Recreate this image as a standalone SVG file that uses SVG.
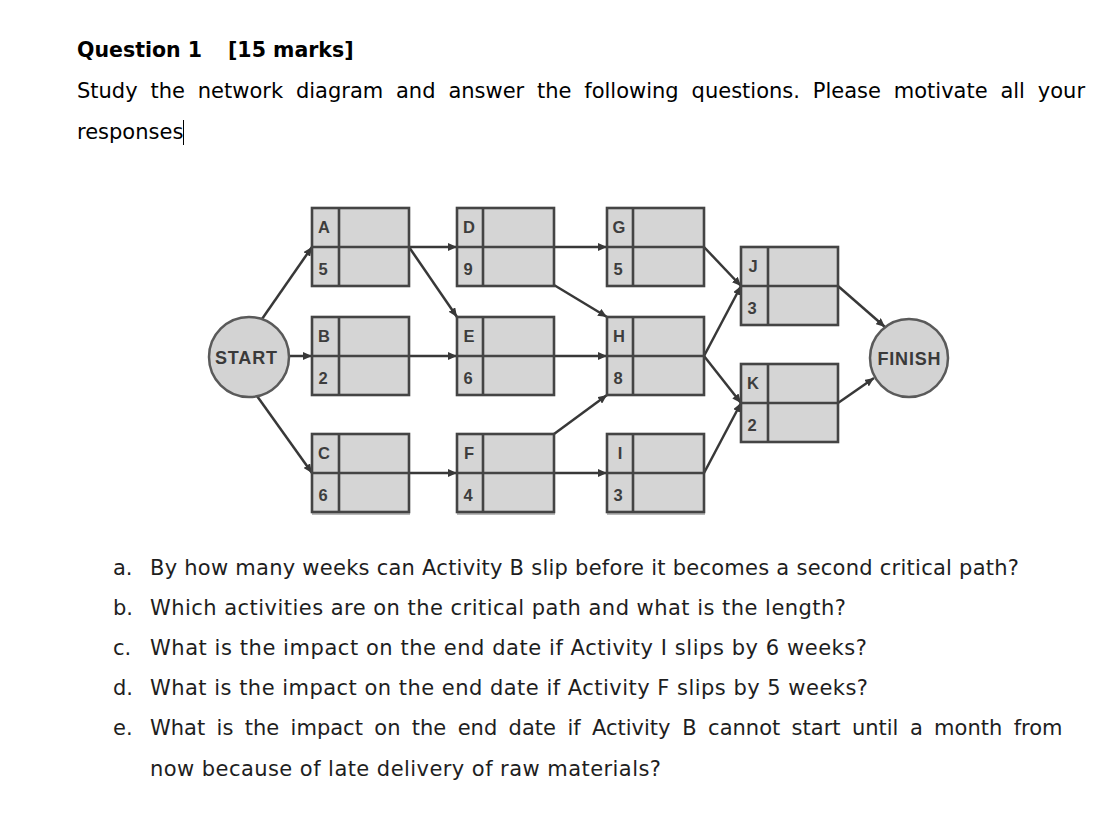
<svg xmlns="http://www.w3.org/2000/svg" width="1112" height="829" viewBox="0 0 1112 829">
<style>
.bg{fill:#ffffff}
.hd{font-family:"DejaVu Sans","Liberation Sans",sans-serif;font-weight:bold;font-size:20.5px;fill:#000}
.tx{font-family:"DejaVu Sans","Liberation Sans",sans-serif;font-size:21px;fill:#000}
.qt{font-family:"DejaVu Sans","Liberation Sans",sans-serif;font-size:21px;fill:#1e1e1e}
.box{fill:#d5d5d5;stroke:#444444;stroke-width:2.6}
.div{stroke:#444444;stroke-width:2.6;fill:none}
.shadow{fill:#b9b9b9}
.lbl{font-family:"Liberation Sans",Arial,sans-serif;font-weight:bold;font-size:16.5px;fill:#3d3d3d;text-anchor:middle}
.circ{fill:#d3d3d3;stroke:#5a5a5a;stroke-width:2.5}
.clbl{font-family:"Liberation Sans",Arial,sans-serif;font-weight:bold;font-size:18px;fill:#3a3a3a;text-anchor:middle}
.con{stroke:#383838;stroke-width:2.5;fill:none;marker-end:url(#arr)}
</style>
<defs>
<marker id="arr" markerUnits="userSpaceOnUse" markerWidth="9" markerHeight="8" refX="9" refY="4" orient="auto">
<path d="M0,0 L9,4 L0,8 z" fill="#383838"/>
</marker>
</defs>
<rect class="bg" x="0" y="0" width="1112" height="829"/>

<g id="header">
<text class="hd" x="77" y="57">Question 1</text>
<text class="hd" x="228" y="57">[15 marks]</text>
<text class="tx" y="98"><tspan x="77">Study</tspan><tspan x="150.5">the</tspan><tspan x="197.8">network</tspan><tspan x="295.9">diagram</tspan><tspan x="396">and</tspan><tspan x="448.4">answer</tspan><tspan x="537">the</tspan><tspan x="584.3">following</tspan><tspan x="691.6">questions.</tspan><tspan x="812.8">Please</tspan><tspan x="893.8">motivate</tspan><tspan x="1000.4">all</tspan><tspan x="1037.8">your</tspan></text>
<text class="tx" x="77" y="139">responses</text>
<line x1="183.5" y1="120" x2="183.5" y2="145" stroke="#000" stroke-width="1"/>
</g>

<g id="connectors">
<line class="con" x1="262" y1="319" x2="312" y2="247"/>
<line class="con" x1="289" y1="356" x2="312" y2="356"/>
<line class="con" x1="257" y1="396" x2="312" y2="473"/>
<line class="con" x1="409" y1="247" x2="457" y2="247"/>
<line class="con" x1="409" y1="247" x2="457" y2="317"/>
<line class="con" x1="409" y1="356" x2="457" y2="356"/>
<line class="con" x1="409" y1="473" x2="457" y2="473"/>
<line class="con" x1="554" y1="247" x2="607" y2="247"/>
<line class="con" x1="554" y1="285" x2="607" y2="317"/>
<line class="con" x1="554" y1="356" x2="607" y2="356"/>
<line class="con" x1="554" y1="434" x2="607" y2="395"/>
<line class="con" x1="554" y1="473" x2="607" y2="473"/>
<line class="con" x1="704" y1="247" x2="741" y2="286"/>
<line class="con" x1="704" y1="356" x2="741" y2="286"/>
<line class="con" x1="704" y1="356" x2="741" y2="403"/>
<line class="con" x1="704" y1="473" x2="741" y2="403"/>
<line class="con" x1="838" y1="286" x2="885" y2="327"/>
<line class="con" x1="838" y1="403" x2="874" y2="378"/>
</g>

<g id="node-start">
<circle class="circ" cx="249" cy="357" r="40"/>
<text class="clbl" x="246" y="363.5" textLength="62">START</text>
</g>
<g id="node-finish">
<circle class="circ" cx="909" cy="358" r="39"/>
<text class="clbl" x="909" y="364.5" textLength="63">FINISH</text>
</g>

<g id="node-A">
<rect class="box" x="312" y="208" width="97" height="78"/>
<path class="div" d="M339,208 V286 M312,247 H409"/>
<text class="lbl" x="324" y="233">A</text><text class="lbl" x="323" y="275">5</text>
</g>
<g id="node-D">
<rect class="box" x="457" y="208" width="97" height="78"/>
<path class="div" d="M483,208 V286 M457,247 H554"/>
<text class="lbl" x="469" y="233">D</text><text class="lbl" x="468" y="275">9</text>
</g>
<g id="node-G">
<rect class="box" x="607" y="208" width="97" height="78"/>
<path class="div" d="M633,208 V286 M607,247 H704"/>
<text class="lbl" x="619" y="233">G</text><text class="lbl" x="618" y="275">5</text>
</g>
<g id="node-B">
<rect class="box" x="312" y="317" width="97" height="78"/>
<path class="div" d="M339,317 V395 M312,356 H409"/>
<text class="lbl" x="324" y="342">B</text><text class="lbl" x="323" y="384">2</text>
</g>
<g id="node-E">
<rect class="box" x="457" y="317" width="97" height="78"/>
<path class="div" d="M483,317 V395 M457,356 H554"/>
<text class="lbl" x="469" y="342">E</text><text class="lbl" x="468" y="384">6</text>
</g>
<g id="node-H">
<rect class="box" x="607" y="317" width="97" height="78"/>
<path class="div" d="M633,317 V395 M607,356 H704"/>
<text class="lbl" x="619" y="342">H</text><text class="lbl" x="618" y="384">8</text>
</g>
<g id="node-C">
<rect class="shadow" x="312" y="510" width="98" height="5"/>
<rect class="box" x="312" y="434" width="97" height="78"/>
<path class="div" d="M339,434 V512 M312,473 H409"/>
<text class="lbl" x="324" y="459">C</text><text class="lbl" x="323" y="501">6</text>
</g>
<g id="node-F">
<rect class="shadow" x="457" y="510" width="98" height="5"/>
<rect class="box" x="457" y="434" width="97" height="78"/>
<path class="div" d="M483,434 V512 M457,473 H554"/>
<text class="lbl" x="469" y="459">F</text><text class="lbl" x="468" y="501">4</text>
</g>
<g id="node-I">
<rect class="shadow" x="607" y="510" width="98" height="5"/>
<rect class="box" x="607" y="434" width="97" height="78"/>
<path class="div" d="M633,434 V512 M607,473 H704"/>
<text class="lbl" x="620" y="459">I</text><text class="lbl" x="618" y="501">3</text>
</g>
<g id="node-J">
<rect class="box" x="741" y="247" width="97" height="78"/>
<path class="div" d="M768,247 V325 M741,286 H838"/>
<text class="lbl" x="753" y="272">J</text><text class="lbl" x="752" y="314">3</text>
</g>
<g id="node-K">
<rect class="box" x="741" y="364" width="97" height="78"/>
<path class="div" d="M768,364 V442 M741,403 H838"/>
<text class="lbl" x="753" y="389">K</text><text class="lbl" x="752" y="431">2</text>
</g>

<g id="questions">
<text class="qt" x="113" y="575">a.</text>
<text class="qt" x="150" y="575" textLength="869">By how many weeks can Activity B slip before it becomes a second critical path?</text>
<text class="qt" x="113" y="615">b.</text>
<text class="qt" x="150" y="615" textLength="696">Which activities are on the critical path and what is the length?</text>
<text class="qt" x="113" y="655">c.</text>
<text class="qt" x="150" y="655" textLength="717">What is the impact on the end date if Activity I slips by 6 weeks?</text>
<text class="qt" x="113" y="695">d.</text>
<text class="qt" x="150" y="695" textLength="718">What is the impact on the end date if Activity F slips by 5 weeks?</text>
<text class="qt" x="113" y="735">e.</text>
<text class="qt" y="735"><tspan x="150">What</tspan><tspan x="216.6">is</tspan><tspan x="244.8">the</tspan><tspan x="290.6">impact</tspan><tspan x="374.3">on</tspan><tspan x="411.8">the</tspan><tspan x="457.7">end</tspan><tspan x="508.6">date</tspan><tspan x="567.4">if</tspan><tspan x="592">Activity</tspan><tspan x="682.3">B</tspan><tspan x="708.1">cannot</tspan><tspan x="791.6">start</tspan><tspan x="851.9">until</tspan><tspan x="909.9">a</tspan><tspan x="934.1">month</tspan><tspan x="1013.7">from</tspan></text>
<text class="qt" x="150" y="776" textLength="511">now because of late delivery of raw materials?</text>
</g>
</svg>
